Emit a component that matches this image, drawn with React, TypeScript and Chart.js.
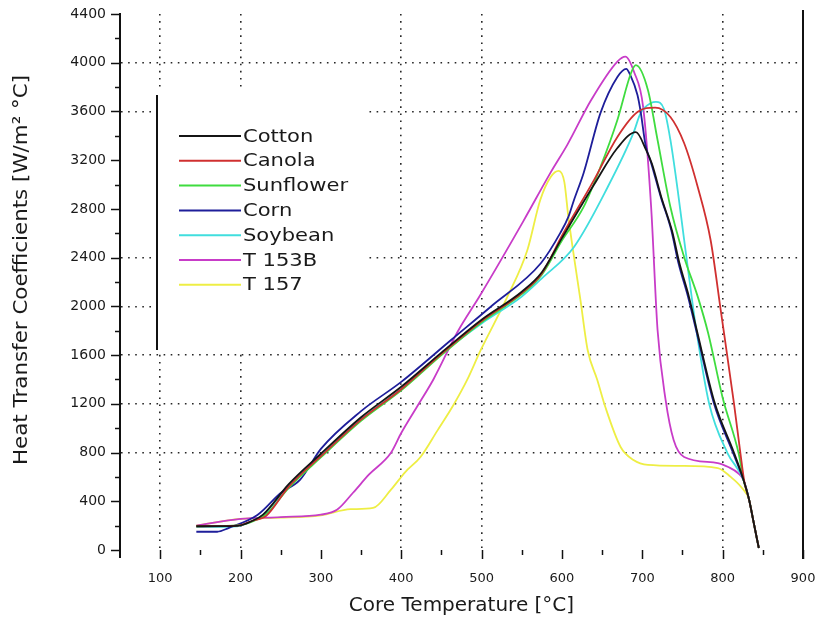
import { useEffect, useRef } from "react";
import { Chart, registerables } from "chart.js";

Chart.register(...registerables);

// ---- Data (Core Temperature [°C], Heat Transfer Coefficient [W/m² °C]) ----
const cotton: number[][] = [[145,195],[196,198],[215,240],[228,290],[260,540],[300,790],[350,1090],[400,1340],[450,1620],[500,1890],[550,2120],[575,2280],[600,2560],[640,3000],[669,3300],[692,3430],[705,3280],[712,3170],[724,2890],[737,2620],[746,2360],[758,2080],[768,1800],[790,1210],[814,800],[826,575],[833,411],[838,246],[845,16]];
const canola: number[][] = [[145,195],[196,200],[215,240],[232,280],[260,520],[300,770],[350,1070],[400,1320],[450,1610],[500,1880],[550,2110],[575,2270],[600,2580],[640,3038],[669,3391],[694,3596],[716,3632],[735,3555],[752,3341],[769,2980],[785,2545],[798,1950],[814,1207],[822,800],[827,560],[833,411],[838,246],[845,16]];
const sunflower: number[][] = [[145,195],[200,205],[215,235],[233,300],[260,510],[300,760],[350,1060],[400,1310],[450,1600],[500,1870],[550,2100],[575,2260],[600,2540],[627,2816],[648,3145],[669,3530],[686,3916],[692,3980],[707,3777],[719,3366],[735,2816],[752,2406],[769,2080],[782,1780],[800,1250],[820,790],[826,575],[833,411],[838,246],[845,16]];
const corn: number[][] = [[145,150],[171,150],[185,180],[221,287],[250,468],[274,575],[300,830],[350,1140],[400,1380],[462,1724],[511,1995],[574,2356],[598,2603],[608,2734],[615,2873],[627,3095],[648,3588],[669,3883],[680,3950],[685,3900],[694,3735],[698,3596],[704,3325],[711,3177],[723,2898],[736,2627],[745,2356],[757,2077],[767,1806],[789,1207],[813,796],[826,575],[833,411],[838,246],[845,16]];
const soybean: number[][] = [[145,190],[196,195],[212,230],[228,287],[260,530],[300,780],[350,1080],[400,1320],[450,1610],[500,1860],[550,2080],[575,2230],[615,2488],[657,2980],[689,3424],[698,3588],[711,3670],[717,3678],[727,3620],[735,3366],[744,2956],[752,2550],[760,2150],[766,1860],[783,1207],[806,796],[826,575],[833,411],[838,246],[845,16]];
const t153b: number[][] = [[145,200],[200,255],[250,270],[300,290],[320,330],[340,470],[360,620],[387,796],[400,960],[420,1180],[440,1400],[470,1790],[499,2100],[552,2700],[586,3100],[607,3330],[636,3690],[669,4010],[679,4050],[690,3920],[701,3640],[711,2816],[719,1806],[729,1232],[739,903],[752,764],[794,714],[807,681],[819,632],[826,575],[833,411],[838,246],[845,16]];
const t157: number[][] = [[145,200],[200,255],[250,265],[300,285],[337,335],[365,345],[387,493],[405,640],[424,764],[445,980],[465,1190],[482,1396],[499,1642],[532,2077],[557,2463],[573,2873],[586,3062],[596,3112],[603,3020],[608,2734],[615,2406],[623,2053],[632,1642],[644,1396],[654,1174],[673,846],[689,739],[707,698],[748,690],[794,673],[810,600],[823,517],[833,411],[838,246],[845,16]];

const seriesNames = ["Cotton", "Canola", "Sunflower", "Corn", "Soybean", "T 153B", "T 157"];
const seriesData = [cotton, canola, sunflower, corn, soybean, t153b, t157];
const seriesColors = ["#151515", "#d03030", "#3fdc3f", "#1e1e9a", "#40dede", "#c83cc8", "#eeee44"];

const xTickValues = [100, 200, 300, 400, 500, 600, 700, 800, 900];
const yTickValues = [0, 400, 800, 1200, 1600, 2000, 2400, 2800, 3200, 3600, 4000, 4400];
const xGridValues = [100, 200, 400, 500, 800];
const yGridValues = [800, 1200, 1600, 2000, 2400, 3600, 4000];
const xMin = 50, xMax = 900, yMin = 0, yMax = 4400;
const xMinorStep = 50, yMinorStep = 200;
const xTitle = "Core Temperature [°C]";
const yTitle = "Heat Transfer Coefficients [W/m² °C]";

const FONT = "'DejaVu Sans', 'Liberation Sans', Arial, sans-serif";
const TEXT = "#1a1a1a";

const extrasPlugin = {
  id: "extras",
  afterDraw(chart: any) {
    const { ctx } = chart;
    const xs = chart.scales.x, ys = chart.scales.y;
    const area = chart.chartArea;
    ctx.save();
    ctx.strokeStyle = "#111";
    ctx.lineWidth = 1.5;
    for (let v = xMin + xMinorStep; v <= xMax; v += xMinorStep) {
      const px = Math.round(xs.getPixelForValue(v)) + 0.5;
      const major = xTickValues.includes(v);
      ctx.beginPath();
      ctx.moveTo(px, area.bottom);
      ctx.lineTo(px, area.bottom + (major ? 9 : 5));
      ctx.stroke();
    }
    for (let v = yMin; v <= yMax; v += yMinorStep) {
      const py = Math.round(ys.getPixelForValue(v)) + 0.5;
      const major = yTickValues.includes(v);
      ctx.beginPath();
      ctx.moveTo(area.left, py);
      ctx.lineTo(area.left - (major ? 9 : 5), py);
      ctx.stroke();
    }
    ctx.lineWidth = 2;
    ctx.beginPath();
    ctx.moveTo(area.left, area.bottom);
    ctx.lineTo(area.left, area.bottom + 8);
    ctx.moveTo(area.right, area.top - 4);
    ctx.lineTo(area.right, area.bottom + 9);
    ctx.stroke();
    // y-axis title
    ctx.save();
    ctx.translate(22, 270);
    ctx.rotate(-Math.PI / 2);
    ctx.scale(1.07, 1);
    ctx.fillStyle = TEXT;
    ctx.font = `20px ${FONT}`;
    ctx.textAlign = "center";
    ctx.textBaseline = "middle";
    ctx.fillText(yTitle, 0, 0);
    ctx.restore();
    ctx.restore();
  },
  afterDatasetsDraw(chart: any) {
    const { ctx } = chart;
    const boxL = 157, boxT = 92, boxR = 366, boxB = 352;
    ctx.save();
    ctx.fillStyle = "#ffffff";
    ctx.fillRect(boxL, boxT, boxR - boxL, boxB - boxT);
    ctx.strokeStyle = "#111";
    ctx.lineWidth = 2;
    ctx.beginPath();
    ctx.moveTo(boxL, boxT + 3);
    ctx.lineTo(boxL, boxB - 2);
    ctx.stroke();
    const rowTop = 136, rowStep = 24.8;
    chart.data.datasets.forEach((ds: any, i: number) => {
      const y = rowTop + i * rowStep;
      ctx.strokeStyle = ds.borderColor;
      ctx.lineWidth = 2;
      ctx.beginPath();
      ctx.moveTo(179, y);
      ctx.lineTo(241, y);
      ctx.stroke();
      ctx.save();
      ctx.translate(243, y);
      ctx.scale(1.17, 1);
      ctx.fillStyle = TEXT;
      ctx.font = `18px ${FONT}`;
      ctx.textBaseline = "middle";
      ctx.fillText(ds.label, 0, 1);
      ctx.restore();
    });
    ctx.restore();
  },
};

export default function App() {
  const ref = useRef<HTMLCanvasElement>(null);
  useEffect(() => {
    const canvas = ref.current!;
    const chart = new Chart(canvas, {
      type: "line",
      data: {
        datasets: seriesNames.map((name, i) => ({
          label: name,
          data: seriesData[i].map(([x, y]) => ({ x, y })),
          borderColor: seriesColors[i],
          backgroundColor: seriesColors[i],
          borderWidth: 1.8,
          pointRadius: 0,
          fill: false,
          cubicInterpolationMode: "monotone" as const,
        })),
      },
      options: {
        responsive: false,
        animation: false,
        devicePixelRatio: 1,
        layout: { padding: { top: 14, right: 14, left: 0, bottom: 0 } },
        plugins: { legend: { display: false }, tooltip: { enabled: false } },
        scales: {
          x: {
            type: "linear",
            min: xMin,
            max: xMax,
            afterBuildTicks: (s: any) => { s.ticks = xTickValues.map((v) => ({ value: v })); },
            afterFit: (s: any) => { s.height = 73; s.paddingLeft = 0; s.paddingRight = 0; },
            grid: {
              color: (c: any) => (xGridValues.includes(c.tick?.value) ? "rgba(0,0,0,0.85)" : "rgba(0,0,0,0)"),
              lineWidth: 1.6,
              drawTicks: false,
            },
            border: { display: false, dash: [1.6, 5.5] },
            ticks: {
              padding: 21,
              color: TEXT,
              font: { family: FONT, size: 13 },
              maxRotation: 0,
              autoSkip: false,
              callback: (v: any) => String(v),
            },
            title: {
              display: true,
              text: xTitle,
              color: TEXT,
              font: { family: FONT, size: 20 },
              padding: { top: 2, bottom: 5 },
            },
          },
          y: {
            type: "linear",
            min: yMin,
            max: yMax,
            afterBuildTicks: (s: any) => { s.ticks = yTickValues.map((v) => ({ value: v })); },
            afterFit: (s: any) => { s.width = 120; s.paddingTop = 0; s.paddingBottom = 0; },
            grid: {
              color: (c: any) => (yGridValues.includes(c.tick?.value) ? "rgba(0,0,0,0.85)" : "rgba(0,0,0,0)"),
              lineWidth: 1.6,
              drawTicks: false,
            },
            border: { display: true, color: "#111", width: 2, dash: [1.6, 5.5] },
            ticks: {
              padding: 14,
              color: TEXT,
              font: { family: FONT, size: 14 },
              autoSkip: false,
              callback: (v: any) => String(v),
            },
            title: { display: false },
          },
        },
      },
      plugins: [extrasPlugin],
    });
    return () => chart.destroy();
  }, []);
  return (
    <div style={{ position: "fixed", left: 0, top: 0, width: 817, height: 623, background: "#fff" }}>
      <canvas ref={ref} width={817} height={623} style={{ display: "block" }} />
    </div>
  );
}
